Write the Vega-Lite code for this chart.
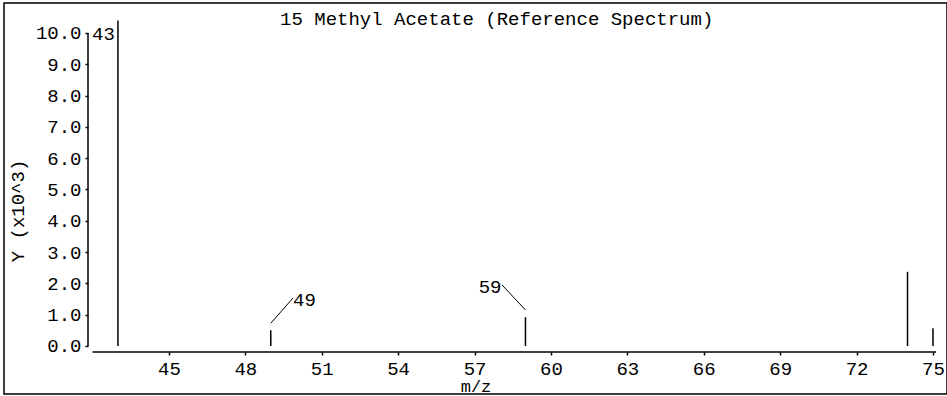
{
  "$schema": "https://vega.github.io/schema/vega-lite/v6.json",
  "width": 943,
  "height": 391,
  "autosize": {"type": "none"},
  "padding": {"left": 4, "top": 3, "right": 0, "bottom": 2},
  "background": "white",
  "config": {
    "view": {"stroke": "#000", "strokeWidth": 1.5},
    "font": "Liberation Mono",
    "text": {"font": "Liberation Mono", "fontSize": 19, "color": "#000"},
    "axis": {
      "domain": false,
      "grid": false,
      "tickSize": 3,
      "tickWidth": 1.5,
      "tickColor": "#000",
      "labelFont": "Liberation Mono",
      "labelFontSize": 19,
      "labelColor": "#000",
      "labelPadding": 4,
      "labelFlush": false,
      "labelOverlap": false,
      "titleFont": "Liberation Mono",
      "titleFontSize": 17,
      "titleFontWeight": "normal",
      "titleColor": "#000"
    }
  },
  "datasets": {
    "peaks": [
      {"mz": 43, "intensity": 10.4},
      {"mz": 49, "intensity": 0.5},
      {"mz": 59, "intensity": 0.92},
      {"mz": 74, "intensity": 2.37},
      {"mz": 75, "intensity": 0.57}
    ],
    "peak_labels": [
      {"mz": 43, "label": "43", "lx": 42.43, "ly": 9.97},
      {"mz": 49, "label": "49", "lx": 50.32, "ly": 1.47, "x1": 49, "y1": 0.725, "x2": 49.87, "y2": 1.53},
      {"mz": 59, "label": "59", "lx": 57.61, "ly": 1.88, "x1": 59, "y1": 1.15, "x2": 58.08, "y2": 1.95}
    ]
  },
  "layer": [
    {
      "data": {"name": "peaks"},
      "mark": {"type": "rule", "color": "#000", "strokeWidth": 1.5},
      "encoding": {
        "x": {
          "field": "mz", "type": "quantitative",
          "scale": {"domain": [38.526, 75.55], "nice": false, "zero": false},
          "axis": {"values": [45, 48, 51, 54, 57, 60, 63, 66, 69, 72, 75], "offset": -42, "title": "m/z", "titleY": 39, "titleBaseline": "alphabetic"}
        },
        "y": {
          "field": "intensity", "type": "quantitative",
          "scale": {"domain": [-1.534, 10.958], "nice": false, "zero": false},
          "axis": {"values": [0, 1, 2, 3, 4, 5, 6, 7, 8, 9, 10], "format": ".1f", "offset": -84, "title": null}
        },
        "y2": {"datum": 0}
      }
    },
    {
      "data": {"values": [{}]},
      "mark": {"type": "rule", "color": "#000", "strokeWidth": 1.5},
      "encoding": {
        "x": {
          "datum": 41.824, "type": "quantitative",
          "axis": {"values": [45, 48, 51, 54, 57, 60, 63, 66, 69, 72, 75], "offset": -42, "title": "m/z", "titleY": 39, "titleBaseline": "alphabetic"}
        },
        "y": {
          "datum": 0, "type": "quantitative",
          "axis": {"values": [0, 1, 2, 3, 4, 5, 6, 7, 8, 9, 10], "format": ".1f", "offset": -84, "title": null}
        },
        "y2": {"datum": 10}
      }
    },
    {
      "data": {"values": [{}]},
      "mark": {"type": "rule", "color": "#000", "strokeWidth": 1.5},
      "encoding": {
        "x": {
          "datum": 42.0, "type": "quantitative",
          "axis": {"values": [45, 48, 51, 54, 57, 60, 63, 66, 69, 72, 75], "offset": -42, "title": "m/z", "titleY": 39, "titleBaseline": "alphabetic"}
        },
        "x2": {"datum": 75.12},
        "y": {
          "datum": -0.192, "type": "quantitative",
          "axis": {"values": [0, 1, 2, 3, 4, 5, 6, 7, 8, 9, 10], "format": ".1f", "offset": -84, "title": null}
        }
      }
    },
    {
      "data": {"name": "peak_labels"},
      "transform": [{"filter": "isValid(datum.x1)"}],
      "mark": {"type": "rule", "color": "#000", "strokeWidth": 1},
      "encoding": {
        "x": {
          "field": "x1", "type": "quantitative",
          "axis": {"values": [45, 48, 51, 54, 57, 60, 63, 66, 69, 72, 75], "offset": -42, "title": "m/z", "titleY": 39, "titleBaseline": "alphabetic"}
        },
        "y": {
          "field": "y1", "type": "quantitative",
          "axis": {"values": [0, 1, 2, 3, 4, 5, 6, 7, 8, 9, 10], "format": ".1f", "offset": -84, "title": null}
        },
        "x2": {"field": "x2"},
        "y2": {"field": "y2"}
      }
    },
    {
      "data": {"name": "peak_labels"},
      "mark": {"type": "text", "align": "center", "baseline": "middle"},
      "encoding": {
        "x": {
          "field": "lx", "type": "quantitative",
          "axis": {"values": [45, 48, 51, 54, 57, 60, 63, 66, 69, 72, 75], "offset": -42, "title": "m/z", "titleY": 39, "titleBaseline": "alphabetic"}
        },
        "y": {
          "field": "ly", "type": "quantitative",
          "axis": {"values": [0, 1, 2, 3, 4, 5, 6, 7, 8, 9, 10], "format": ".1f", "offset": -84, "title": null}
        },
        "text": {"field": "label"}
      }
    },
    {
      "data": {"values": [{"title": "15 Methyl Acetate (Reference Spectrum)"}]},
      "mark": {"type": "text", "align": "center", "baseline": "alphabetic"},
      "encoding": {
        "x": {
          "datum": 57.87, "type": "quantitative",
          "axis": {"values": [45, 48, 51, 54, 57, 60, 63, 66, 69, 72, 75], "offset": -42, "title": "m/z", "titleY": 39, "titleBaseline": "alphabetic"}
        },
        "y": {
          "datum": 10.265, "type": "quantitative",
          "axis": {"values": [0, 1, 2, 3, 4, 5, 6, 7, 8, 9, 10], "format": ".1f", "offset": -84, "title": null}
        },
        "text": {"field": "title"}
      }
    },
    {
      "data": {"values": [{"title": "Y (x10^3)"}]},
      "mark": {"type": "text", "align": "center", "baseline": "middle", "angle": 270},
      "encoding": {
        "x": {
          "datum": 39.075, "type": "quantitative",
          "axis": {"values": [45, 48, 51, 54, 57, 60, 63, 66, 69, 72, 75], "offset": -42, "title": "m/z", "titleY": 39, "titleBaseline": "alphabetic"}
        },
        "y": {
          "datum": 4.313, "type": "quantitative",
          "axis": {"values": [0, 1, 2, 3, 4, 5, 6, 7, 8, 9, 10], "format": ".1f", "offset": -84, "title": null}
        },
        "text": {"field": "title"}
      }
    }
  ]
}
